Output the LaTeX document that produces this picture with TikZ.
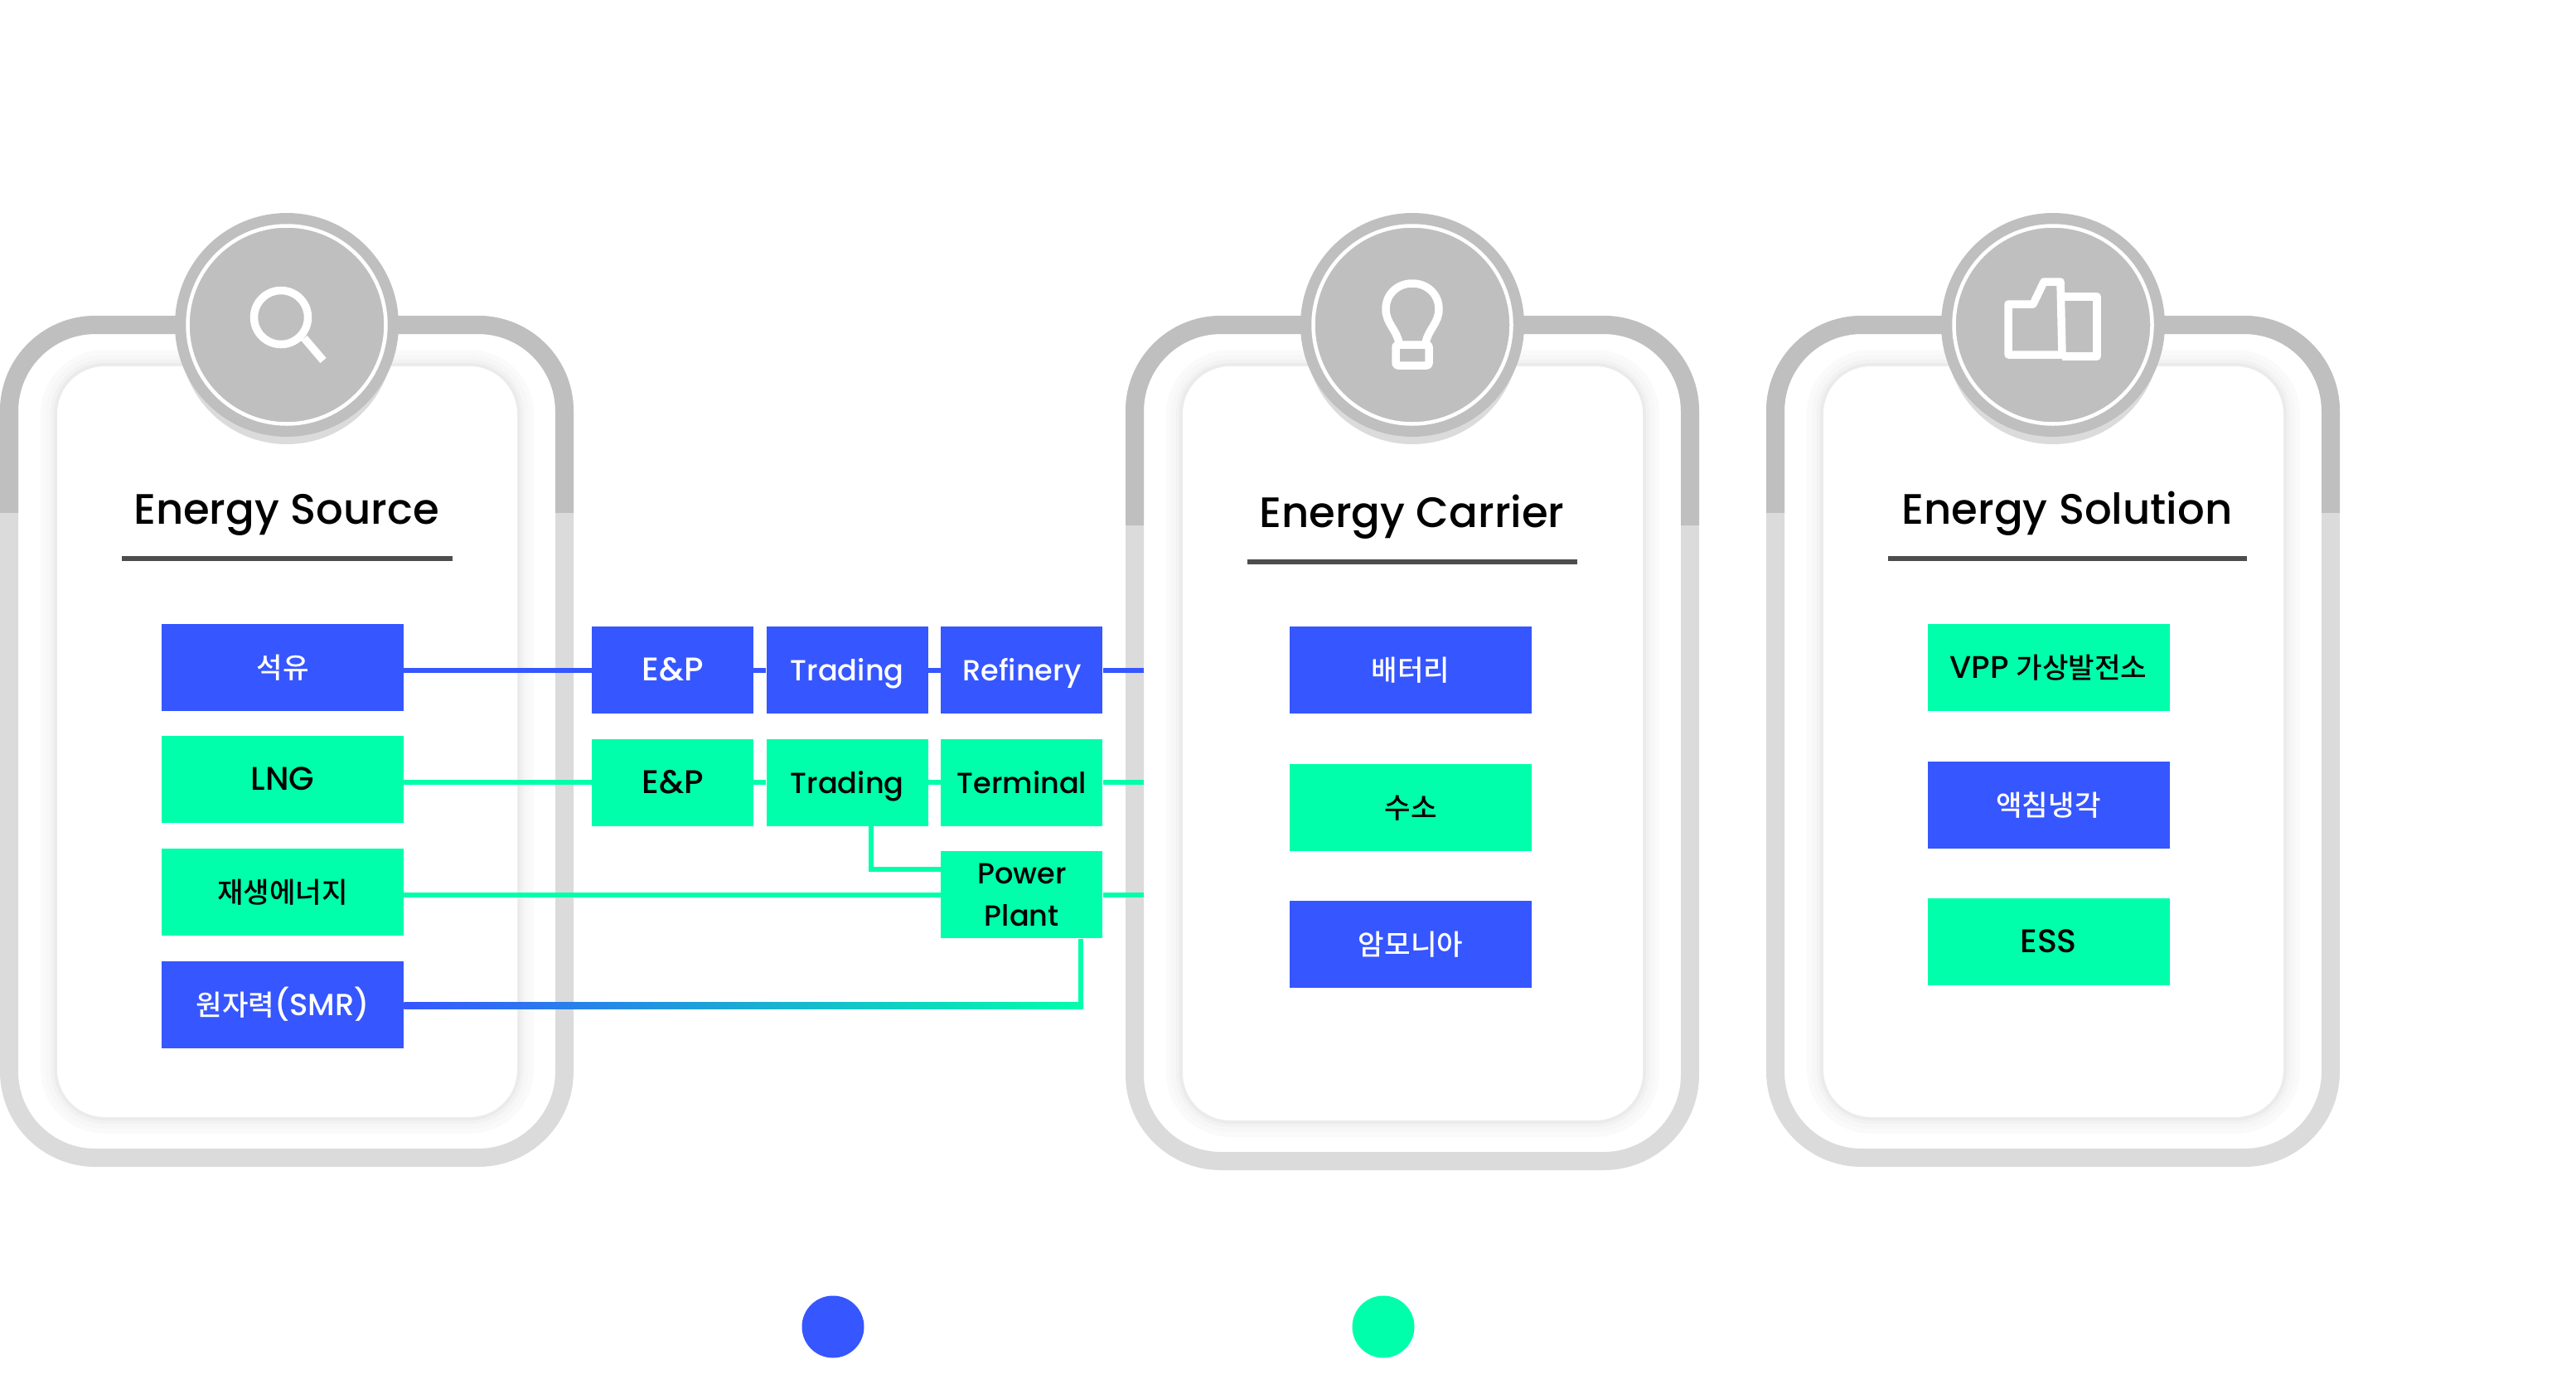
\documentclass[tikz,border=0pt]{standalone}
\usepackage{fontspec}
\setmainfont{Poppins}[UprightFont=* Medium]
\newfontfamily\krfont{Noto Sans CJK KR}[UprightFont=* Medium]
\usepackage{tikz}
\usetikzlibrary{positioning,calc,shapes.geometric}

\definecolor{mainblue}{HTML}{3656FF}
\definecolor{maingreen}{HTML}{00FFAB}
\definecolor{ringdark}{HTML}{BFBFBF}
\definecolor{ringlight}{HTML}{DBDBDB}
\definecolor{rulegray}{HTML}{4D4D4D}

\newcommand{\krlabel}[1]{{\krfont\fontsize{19.5}{24}\selectfont #1}}

\tikzset{
  flowbox/.style={rectangle, inner sep=0pt, minimum height=2.1cm, align=center, font=\fontsize{20}{29}\selectfont},
  oneline/.style={text height=0.52cm, text depth=0pt},
  srcbox/.style={flowbox, oneline, minimum width=5.84cm},
  midbox/.style={flowbox, oneline, minimum width=3.9cm},
  capsword/.style={font=\fontsize{22.5}{29}\selectfont},
  blueb/.style={fill=mainblue, text=white},
  greenb/.style={fill=maingreen, text=black},
  blueline/.style={draw=mainblue, line width=0.12cm},
  greenline/.style={draw=maingreen, line width=0.12cm},
  cardtitle/.style={anchor=base, inner sep=0pt, font=\fontsize{29.2}{34}\selectfont},
  titlerule/.style={draw=rulegray, line width=0.12cm},
  iconline/.style={draw=white, line width=0.19cm, line join=round},
  ghost/.style={text=white, inner sep=0pt}
}

\begin{document}
\begin{tikzpicture}
\useasboundingbox (0,0) rectangle (62.16,-33.16);

% cards
\foreach \cl/\cc/\cs/\cb in {0/6.92/-12.36/-28.16, 27.16/34.08/-12.66/-28.24, 42.62/49.54/-12.36/-28.16} {
  \draw[ringlight, line width=0.44cm, rounded corners=2.08cm] (\cl+0.22,-7.84) rectangle (\cl+13.62,\cb+0.22);
  \begin{scope}
    \clip (\cl-0.1,-7) rectangle (\cl+14,\cs);
    \draw[ringdark, line width=0.44cm, rounded corners=2.08cm] (\cl+0.22,-7.84) rectangle (\cl+13.62,\cb+0.22);
  \end{scope}
  \foreach \sw/\st in {0.8/2, 0.55/3, 0.32/5, 0.16/8} {
    \draw[black!\st, line width=\sw cm, rounded corners=1.15cm] (\cl+1.38,-8.84) rectangle (\cl+12.48,\cb+1.2);
  }
  \fill[white, rounded corners=1.15cm] (\cl+1.38,-8.84) rectangle (\cl+12.48,\cb+1.2);
  \fill[ringlight] (\cc,-8.14) circle (2.58cm);
  \fill[ringdark] (\cc,-7.84) circle (2.7cm);
  \draw[white, line width=0.09cm] (\cc,-7.84) circle (2.39cm);
}

% icons
\draw[iconline] (6.78,-7.66) circle (0.65cm);
\draw[iconline] (7.34,-8.16) -- (7.8,-8.7);
\draw[iconline] (33.76,-8.28) .. controls (33.7,-7.95) and (33.44,-7.8) .. (33.44,-7.46) .. controls (33.44,-7.1) and (33.72,-6.84) .. (34.08,-6.84) .. controls (34.44,-6.84) and (34.72,-7.1) .. (34.72,-7.46) .. controls (34.72,-7.8) and (34.46,-7.95) .. (34.4,-8.28);
\draw[iconline, rounded corners=0.05cm] (33.68,-8.32) rectangle (34.48,-8.82);
\draw[iconline] (48.46,-7.34) -- (49.06,-7.34) -- (49.32,-6.8) -- (49.72,-6.8) -- (49.76,-8.56) -- (48.46,-8.56) -- cycle;
\draw[iconline] (49.76,-7.16) -- (50.6,-7.16) -- (50.6,-8.6) -- (49.76,-8.6);

% titles
\node[cardtitle] (sourcetitle) at (6.91,-12.64) {Energy Source};
\node[cardtitle] (carriertitle) at (34.07,-12.73) {Energy Carrier};
\node[cardtitle] (solutiontitle) at (49.88,-12.64) {Energy Solution};
\draw[titlerule] (2.94,-13.47) -- (10.92,-13.47);
\draw[titlerule] (30.09,-13.56) -- (38.06,-13.56);
\draw[titlerule] (45.56,-13.47) -- (54.22,-13.47);

% source column
\node[srcbox, blueb] (oil) at (6.82,-16.1) {\krlabel{석유}};
\node[srcbox, greenb, capsword, below=0.6cm of oil] (lng) {LNG};
\node[srcbox, greenb, below=0.6cm of lng] (renew) {\krlabel{재생에너지}};
\node[srcbox, blueb, below=0.6cm of renew] (nuke) {\krlabel{원자력}{\fontsize{21}{29}\selectfont (SMR)}};

% value chain
\node[midbox, blueb, capsword] (ep1) at (16.23,-16.17) {E\&P};
\node[midbox, blueb, right=0.3cm of ep1] (trade1) {Trading};
\node[midbox, blueb, right=0.3cm of trade1] (refine) {Refinery};
\node[midbox, greenb, capsword, below=0.6cm of ep1] (ep2) {E\&P};
\node[midbox, greenb, right=0.3cm of ep2] (trade2) {Trading};
\node[midbox, greenb, right=0.3cm of trade2] (terminal) {Terminal};
\node[flowbox, minimum width=3.9cm, greenb, below=0.6cm of terminal] (plant) {Power\\Plant};

% carrier and solution columns
\node[srcbox, blueb] (battery) at (34.04,-16.17) {\krlabel{배터리}};
\node[srcbox, greenb, below=1.2cm of battery] (hydrogen) {\krlabel{수소}};
\node[srcbox, blueb, below=1.2cm of hydrogen] (ammonia) {\krlabel{암모니아}};
\node[srcbox, greenb] (vpp) at (49.43,-16.11) {{\fontsize{21.5}{29}\selectfont VPP} \krlabel{가상발전소}};
\node[srcbox, blueb, below=1.2cm of vpp] (cooling) {\krlabel{액침냉각}};
\node[srcbox, greenb, capsword, below=1.2cm of cooling] (ess) {ESS};

% connectors
\coordinate (bandin) at (27.6,-16.2);
\coordinate (smrturn) at (26.08,-24.24);
\draw[blueline] (oil.east |- ep1.west) -- (ep1.west);
\draw[blueline] (ep1) -- (trade1);
\draw[blueline] (trade1) -- (refine);
\draw[blueline] (refine.east) -- (refine.east -| bandin);
\draw[greenline] (lng.east |- ep2.west) -- (ep2.west);
\draw[greenline] (ep2) -- (trade2);
\draw[greenline] (trade2) -- (terminal);
\draw[greenline] (terminal.east) -- (terminal.east -| bandin);
\draw[greenline] (renew.east |- plant.west) -- (plant.west);
\draw[greenline] (plant.east) -- (plant.east -| bandin);
\draw[greenline] (trade2.south -| 21.02,0) |- (plant.west |- 0,-20.98);
\draw[greenline] (smrturn) -- (smrturn |- plant.south);
\shade[left color=mainblue, right color=maingreen] ($(nuke.east)+(0,-0.1)$) rectangle ($(smrturn)+(0.06,0.06)$);

% legend and white headline
\node[circle, fill=mainblue, inner sep=0pt, minimum size=1.5cm] (sknode) at (20.1,-32.02) {};
\node[circle, fill=maingreen, inner sep=0pt, minimum size=1.5cm] (esnode) at (33.38,-32.02) {};
\node[ghost, right=0.6cm of sknode, font=\fontsize{27}{32}\selectfont] (sktext) {SK{\krfont 이노베이션 사업영역}};
\node[ghost, right=0.6cm of esnode, font=\fontsize{27}{32}\selectfont] (estext) {SK E\&S {\krfont 사업영역}};
\node[ghost, anchor=base east, font=\fontsize{74}{80}\selectfont] (headline) at (54,-2.88) {{\krfont 에너지} Value Chain {\krfont 구현}};
\end{tikzpicture}
\end{document}
